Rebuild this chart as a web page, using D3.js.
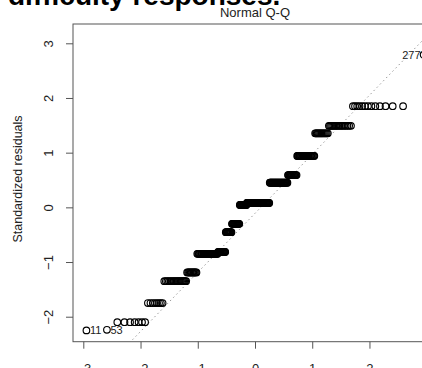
<!DOCTYPE html>
<html>
<head>
<meta charset="utf-8">
<script src="https://cdn.jsdelivr.net/npm/d3@7"></script>
<style>
  html, body { margin: 0; padding: 0; background: #fff; }
  svg { display: block; font-family: "Liberation Sans", Arial, sans-serif; }
</style>
</head>
<body>
<div id="chart"></div>
<script>
// standardized residual levels (sorted) and how many observations sit on each
const residLevels = [-2.25, -2.24, -2.10, -1.75, -1.35, -1.19, -0.85, -0.815, -0.455, -0.30,
                     0.044, 0.08, 0.45, 0.59, 0.94, 1.355, 1.49, 1.85, 2.79];
const levelCounts = [1, 1, 7, 8, 19, 12, 32, 14, 12, 16,
                     15, 49, 36, 16, 26, 15, 17, 13, 1];
// labelled observations: rank in sorted order -> id
const idRanks = [1, 2, 310];
const idNames = ['11', '53', '277'];
const xTicks = [-3, -2, -1, 0, 1, 2, 3];
const yTicks = [-2, -1, 0, 1, 2, 3];
// qqline through the quartiles
const lineIntercept = -0.11;
const lineSlope = 1.08;

const W = 422, H = 368;
const box = { left: 73, top: 24, right: 437, bottom: 341.7 };

// inverse normal CDF (Acklam)
function qnorm(p) {
  const a = [-39.69683028665376, 220.9460984245205, -275.9285104469687, 138.3577518672690, -30.66479806614716, 2.506628277459239];
  const b = [-54.47609879822406, 161.5858368580409, -155.6989798598866, 66.80131188771972, -13.28068155288572];
  const c = [-0.007784894002430293, -0.3223964580411365, -2.400758277161838, -2.549732539343734, 4.374664141464968, 2.938163982698783];
  const d = [0.007784695709041462, 0.3224671290700398, 2.445134137142996, 3.754408661907416];
  const pl = 0.02425;
  let q, r;
  if (p < pl) {
    q = Math.sqrt(-2 * Math.log(p));
    return (((((c[0]*q+c[1])*q+c[2])*q+c[3])*q+c[4])*q+c[5]) / ((((d[0]*q+d[1])*q+d[2])*q+d[3])*q+1);
  } else if (p <= 1 - pl) {
    q = p - 0.5; r = q * q;
    return (((((a[0]*r+a[1])*r+a[2])*r+a[3])*r+a[4])*r+a[5])*q / (((((b[0]*r+b[1])*r+b[2])*r+b[3])*r+b[4])*r+1);
  } else {
    q = Math.sqrt(-2 * Math.log(1 - p));
    return -(((((c[0]*q+c[1])*q+c[2])*q+c[3])*q+c[4])*q+c[5]) / ((((d[0]*q+d[1])*q+d[2])*q+d[3])*q+1);
  }
}

// expand levels into the sorted residuals, then pair with theoretical quantiles
const resid = [];
residLevels.forEach((v, i) => { for (let k = 0; k < levelCounts[i]; k++) resid.push(v); });
const n = resid.length;
const points = resid.map((r, i) => ({ rank: i + 1, q: qnorm((i + 0.5) / n), r }));

const x = d3.scaleLinear().domain([-3.18, 3.18]).range([box.left, box.right]);
const y = d3.scaleLinear().domain([-2.457, 3.353]).range([box.bottom, box.top]);

const svg = d3.select('#chart').append('svg')
  .attr('width', W)
  .attr('height', H);

svg.append('defs').append('clipPath').attr('id', 'plotclip')
  .append('rect')
  .attr('x', box.left).attr('y', box.top)
  .attr('width', box.right - box.left).attr('height', box.bottom - box.top);

// cut-off heading from the page above
svg.append('text')
  .attr('x', 8)
  .attr('y', 4.5)
  .attr('font-size', 28)
  .attr('font-weight', 'bold')
  .attr('fill', '#000')
  .text('difficulty responses.');

svg.append('text')
  .attr('x', (box.left + box.right) / 2)
  .attr('y', 17)
  .attr('text-anchor', 'middle')
  .attr('font-size', 13)
  .attr('fill', '#222')
  .text('Normal Q-Q');

// qq reference line (dotted)
const [x0, x1] = x.domain();
svg.append('line')
  .attr('clip-path', 'url(#plotclip)')
  .attr('x1', x(x0)).attr('y1', y(lineIntercept + lineSlope * x0))
  .attr('x2', x(x1)).attr('y2', y(lineIntercept + lineSlope * x1))
  .attr('stroke', '#999')
  .attr('stroke-width', 1)
  .attr('stroke-dasharray', '1.5,3');

// points
svg.append('g')
  .attr('clip-path', 'url(#plotclip)')
  .selectAll('circle')
  .data(points)
  .enter()
  .append('circle')
  .attr('cx', d => x(d.q))
  .attr('cy', d => y(d.r))
  .attr('r', 3.3)
  .attr('fill', 'none')
  .attr('stroke', '#000')
  .attr('stroke-width', 1.15);

// id labels: left of the point on the right half, right of it on the left half
const xMid = (d3.min(points, d => d.q) + d3.max(points, d => d.q)) / 2;
svg.append('g')
  .selectAll('text')
  .data(idRanks.map((rk, i) => ({ p: points[rk - 1], name: idNames[i] })))
  .enter()
  .append('text')
  .attr('x', d => d.p.q > xMid ? x(d.p.q) - 3 : x(d.p.q) + 3.5)
  .attr('y', d => y(d.p.r) + 4)
  .attr('text-anchor', d => d.p.q > xMid ? 'end' : 'start')
  .attr('font-size', 11)
  .attr('fill', '#222')
  .text(d => d.name);

// plot box
svg.append('rect')
  .attr('x', box.left).attr('y', box.top)
  .attr('width', box.right - box.left).attr('height', box.bottom - box.top)
  .attr('fill', 'none')
  .attr('stroke', '#555')
  .attr('stroke-width', 1);

// x axis
const xAxis = svg.append('g')
  .attr('transform', `translate(0,${box.bottom})`)
  .call(d3.axisBottom(x).tickValues(xTicks).tickSize(7).tickPadding(15).tickFormat(d3.format('d')));
xAxis.select('.domain').remove();
xAxis.selectAll('line').attr('stroke', '#555');
xAxis.selectAll('text').attr('font-size', 13).attr('fill', '#222')
  .attr('font-family', '"Liberation Sans", Arial, sans-serif');

// y axis, labels turned like R's default
const yAxis = svg.append('g')
  .attr('transform', `translate(${box.left},0)`)
  .call(d3.axisLeft(y).tickValues(yTicks).tickSize(7).tickFormat(d3.format('d')));
yAxis.select('.domain').remove();
yAxis.selectAll('line').attr('stroke', '#555');
yAxis.selectAll('text')
  .attr('font-size', 13).attr('fill', '#222')
  .attr('font-family', '"Liberation Sans", Arial, sans-serif')
  .attr('x', null).attr('dy', null)
  .attr('text-anchor', 'middle')
  .attr('transform', 'translate(-20,0) rotate(-90)')
  .attr('y', 0);

svg.append('text')
  .attr('transform', 'translate(22,179) rotate(-90)')
  .attr('text-anchor', 'middle')
  .attr('font-size', 12.5)
  .attr('fill', '#222')
  .text('Standardized residuals');
</script>
</body>
</html>
